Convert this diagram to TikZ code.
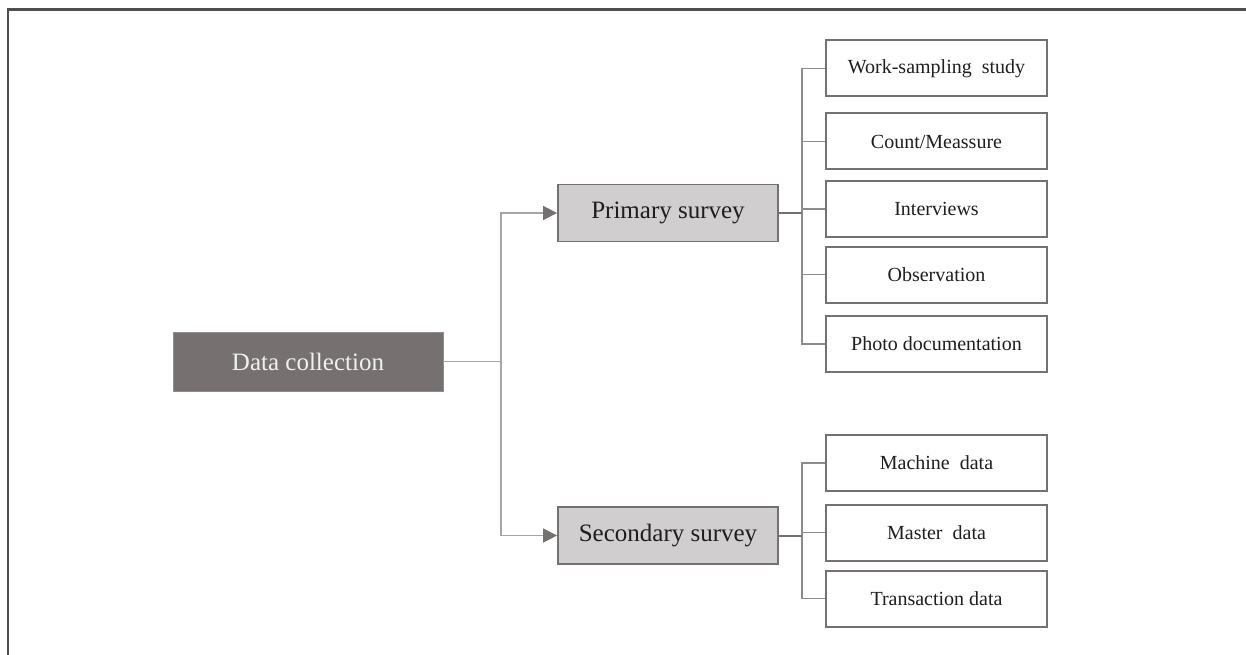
\documentclass[tikz,border=0pt]{standalone}
\usepackage{fontspec}
\setmainfont{Liberation Serif}
\usetikzlibrary{arrows.meta}
\definecolor{boxdark}{HTML}{767170}
\definecolor{boxlight}{HTML}{D0CECE}
\definecolor{edgegray}{HTML}{767171}
\definecolor{linegray}{HTML}{A5A5A5}
\definecolor{framegray}{HTML}{505050}
\definecolor{textdark}{HTML}{1E1E1E}
\tikzset{
  rootbox/.style={fill=boxdark, draw=boxdark!80!white, line width=0.6pt,
    minimum width=270pt, minimum height=59pt, inner sep=0pt,
    text=white!94!black, font=\fontsize{25}{30}\selectfont},
  midbox/.style={fill=boxlight, draw=edgegray, line width=1.8pt,
    minimum width=220pt, minimum height=57pt, inner sep=0pt,
    text=textdark, font=\fontsize{25}{30}\selectfont},
  leafbox/.style={fill=white, draw=edgegray, line width=2pt,
    minimum width=221pt, minimum height=56pt, inner sep=0pt,
    text=textdark, font=\fontsize{20}{24}\selectfont},
  mainlink/.style={draw=linegray, line width=1.6pt},
  arrowlink/.style={mainlink, -{Triangle[length=14pt,width=14pt,fill=edgegray,color=edgegray]}},
  stub/.style={draw=edgegray, line width=2pt},
  leaflink/.style={draw=linegray!85!black, line width=1.1pt},
  frameline/.style={draw=framegray, line width=2.4pt}
}
\begin{document}
\begin{tikzpicture}[x=1pt,y=-1pt]
\useasboundingbox (0,0) rectangle (1246,655);

% outer frame (top and left edges only)
\draw[frameline] (8,655) |- (1246,9.5);

% root and the two survey types
\node[rootbox] (dc) at (308,361.5) {Data collection};
\node[midbox] (ps) at (668,213) {Primary survey};
\node[midbox] (ss) at (668,535.5) {Secondary survey};

% primary survey methods
\node[leafbox] (p1) at (936.5,68.5) {Work-sampling\ \ study};
\node[leafbox] (p2) at (936.5,141.5) {Count/Meassure};
\node[leafbox] (p3) at (936.5,209) {Interviews};
\node[leafbox] (p4) at (936.5,274.5) {Observation};
\node[leafbox] (p5) at (936.5,344) {Photo documentation};

% secondary survey sources
\node[leafbox] (s1) at (936.5,463) {Machine\ \ data};
\node[leafbox] (s2) at (936.5,532.5) {Master\ \ data};
\node[leafbox] (s3) at (936.5,598.5) {Transaction data};

% branching points
\coordinate (split) at (501,361.5);
\coordinate (pbus) at (802,213);
\coordinate (sbus) at (802,535.5);

% root to survey types
\draw[mainlink] (dc.east) -- (split);
\draw[arrowlink] (split) |- (ps.west);
\draw[arrowlink] (split) |- (ss.west);

% survey types to their items
\foreach \c in {p1,p2,p3,p4,p5} \draw[leaflink] (pbus) |- (\c.west);
\foreach \c in {s1,s2,s3} \draw[leaflink] (sbus) |- (\c.west);
\draw[stub] (ps.east) -- (pbus);
\draw[stub] (ss.east) -- (sbus);
\end{tikzpicture}
\end{document}
